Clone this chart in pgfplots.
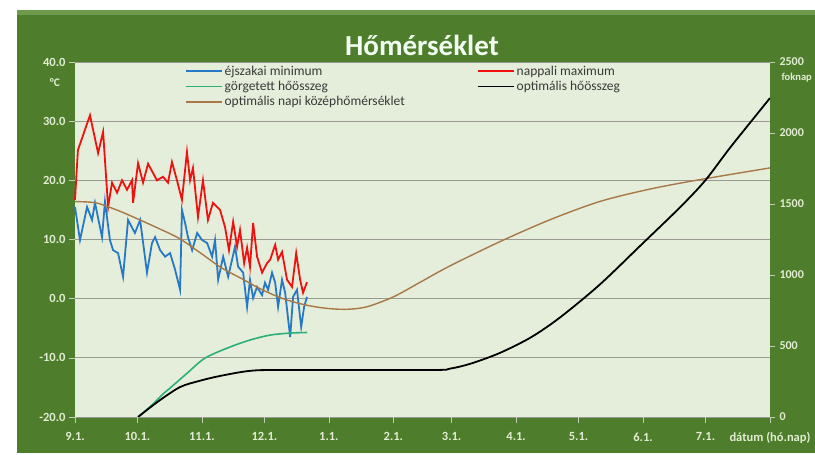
\documentclass[border=0pt]{standalone}
\usepackage{fontspec}
\setmainfont{Carlito}
\usepackage{pgfplots}
\pgfplotsset{compat=1.18}
\definecolor{outergreen}{HTML}{4E7E2C}
\definecolor{topgreen}{HTML}{6E9A4E}
\definecolor{plotbg}{HTML}{E5EEDA}
\definecolor{ticklab}{HTML}{E2ECD3}
\definecolor{gridgray}{HTML}{9A9A92}
\definecolor{minblue}{HTML}{2878C8}
\definecolor{maxred}{HTML}{F01010}
\definecolor{sumgreen}{HTML}{2BB07A}
\definecolor{optbrown}{HTML}{A87848}
\definecolor{legtext}{HTML}{3A3A3A}

\begin{document}
\begin{tikzpicture}
\useasboundingbox (0pt,0pt) rectangle (815pt,455pt);
\fill[white] (0pt,0pt) rectangle (815pt,455pt);
\fill[outergreen] (17pt,2pt) rectangle (815pt,445pt);
\fill[topgreen] (17pt,440pt) rectangle (815pt,445pt);
\node[font=\fontsize{29}{32}\selectfont\bfseries, text=white!95!green] at (422pt,410pt) {Hőmérséklet};
\node[font=\fontsize{11.5}{12}\selectfont\bfseries, text=ticklab] at (55pt,372pt) {°C};

% temperature axis (left)
\begin{axis}[
    at={(75pt,38pt)}, anchor=south west,
    scale only axis, width=695pt, height=355pt,
    xmin=0, xmax=334, ymin=-20, ymax=40,
    axis background/.style={fill=plotbg},
    axis line style={draw=none},
    xtick={0,30,61,91,122,153,181,212,242,273,303,334},
    xticklabels={9.1.,10.1.,11.1.,12.1.,1.1.,2.1.,3.1.,4.1.,5.1.,6.1.,7.1.,{dátum (hó.nap)}},
    xtick pos=bottom, ytick pos=left,
    ytick={-20,-10,...,40},
    ymajorgrids, grid style={gridgray, line width=0.9pt},
    tick align=outside, major tick length=6pt,
    tick style={ticklab!70!gray, line width=0.6pt},
    ticklabel style={font=\fontsize{12.5}{13}\selectfont\bfseries, text=ticklab},
    x tick label style={yshift=-6pt},
    yticklabel={\pgfmathprintnumber[fixed,fixed zerofill,precision=1,assume math mode=true]{\tick}},
    legend columns=2,
    legend cell align=left,
    legend style={at={(0.157,0.997)}, anchor=north west, draw=none, fill=plotbg,
        font=\fontsize{13.5}{14}\selectfont, text=legtext, inner sep=0.5pt,
        row sep=0.5pt, /tikz/every even column/.append style={column sep=70pt}},
    legend image code/.code={\draw[#1] (0pt,0pt) -- (36pt,0pt);},
    clip=false,
]
\addlegendimage{minblue, line width=1.8pt}
\addlegendentry{éjszakai minimum}
\addlegendimage{maxred, line width=1.8pt}
\addlegendentry{nappali maximum}
\addlegendimage{sumgreen, line width=1.8pt}
\addlegendentry{görgetett hőösszeg}
\addlegendimage{black, line width=1.8pt}
\addlegendentry{optimális hőösszeg}
\addlegendimage{optbrown, line width=1.4pt}
\addlegendentry{optimális napi középhőmérséklet}
\addplot[minblue, line width=1.8pt, forget plot] coordinates {
(0,15.5) (2.4,9.9) (5.8,15.5) (8.2,13.3) (9.6,16.2) (13.0,10.4) (14.4,16.4)
(16.8,9.9) (18.3,8.2) (20.7,7.7) (23.1,3.7) (25.5,13.3) (28.8,11.1) (31.3,13.3)
(34.6,4.4) (37.0,9.4) (38.5,10.4) (40.9,8.2) (43.3,7.1) (45.7,7.7) (48.1,4.9)
(50.5,1.5) (51.4,15.0) (52.9,12.8) (54.3,10.4) (56.3,8.2) (58.7,11.1) (61.1,9.9)
(63.5,9.4) (65.9,7.1) (67.3,9.9) (68.8,3.2) (71.2,7.1) (73.6,3.7) (75.5,6.6)
(76.9,8.8) (78.4,5.4) (80.8,4.4) (82.7,-1.4) (84.1,3.2) (85.6,0.1) (87.5,2.0)
(89.9,0.6) (91.3,2.7) (92.8,1.5) (94.7,4.4) (96.2,2.7) (97.6,-1.4) (99.5,3.2)
(101.0,1.0) (103.4,-6.5) (104.8,0.3) (106.7,1.5) (108.7,-4.8) (110.1,-1.4) (111.5,0.3)
};
\addplot[maxred, line width=1.8pt, forget plot] coordinates {
(0,16.7) (1.4,25.1) (7.2,31.0) (11.1,24.6) (13.5,28.2) (15.9,15.5) (17.8,19.6)
(20.2,17.9) (22.6,20.0) (25.0,18.4) (27.4,20.0) (27.9,16.2) (30.3,22.9) (32.7,19.6)
(35.1,22.8) (39.4,20.0) (42.3,20.6) (44.7,19.6) (46.6,23.1) (49.0,20.0) (51.4,16.7)
(53.8,24.8) (55.3,20.0) (56.7,22.1) (59.1,13.8) (61.5,20.0) (63.9,13.3) (66.3,16.2)
(69.7,15.0) (72.1,12.1) (74.0,8.2) (76.0,13.0) (77.9,8.8) (79.3,11.6) (81.3,6.0)
(82.7,8.6) (84.1,5.4) (85.6,12.8) (87.5,7.1) (89.9,4.4) (92.3,6.0) (93.8,6.6)
(96.2,9.1) (97.6,6.6) (99.5,7.9) (101.9,3.2) (104.3,2.0) (106.3,7.7) (108.2,3.2)
(109.6,1.0) (111.5,2.8)
};
\addplot[optbrown, line width=1.4pt, smooth, forget plot] coordinates {
(0,16.4) (10,16.2) (20,15.0) (30,13.5) (40,11.9) (50,10.2) (60,7.8) (70,5.3)
(80,3.4) (90,1.5) (100,0.0) (110,-1.0) (120,-1.6) (130,-1.8) (140,-1.4) (153,0.3)
(166,2.8) (180,5.5) (204,9.6) (228,13.3) (252,16.4) (276,18.5) (300,20.1) (334,22.1)
};
\end{axis}

% heat sum axis (right)
\begin{axis}[
    at={(75pt,38pt)}, anchor=south west,
    scale only axis, width=695pt, height=355pt,
    xmin=0, xmax=334, ymin=0, ymax=2500,
    axis x line=none, axis y line*=right,
    axis line style={draw=none},
    ytick={0,500,...,2500},
    tick align=outside, major tick length=5pt,
    tick style={ticklab!70!gray, line width=0.6pt},
    ticklabel style={font=\fontsize{12}{13}\selectfont\bfseries, text=ticklab},
    yticklabel style={anchor=west, xshift=1pt},
    scaled y ticks=false,
    yticklabel={\pgfmathprintnumber[fixed,assume math mode=true,1000 sep={}]{\tick}},
]
\addplot[sumgreen, line width=1.6pt, smooth] coordinates {
(30.3,0) (37,85) (42.3,162) (45.7,204) (54,310) (62.5,415) (74.5,493)
(84.1,542) (93.8,577) (103.4,591) (111.5,595)
};
\addplot[black, line width=1.8pt, smooth] coordinates {
(30.3,0) (40,110) (50.5,211) (60,255) (69.7,289) (84.1,325) (100,331)
(171,331) (180,340) (190,375) (204,450) (219,560) (233,700) (252,930)
(272,1211) (291,1480) (303,1668) (315,1900) (334,2246)
};
\end{axis}
\node[font=\fontsize{10.5}{11}\selectfont\bfseries, text=ticklab, anchor=west] at (778pt,377pt) {foknap};
\end{tikzpicture}
\end{document}
